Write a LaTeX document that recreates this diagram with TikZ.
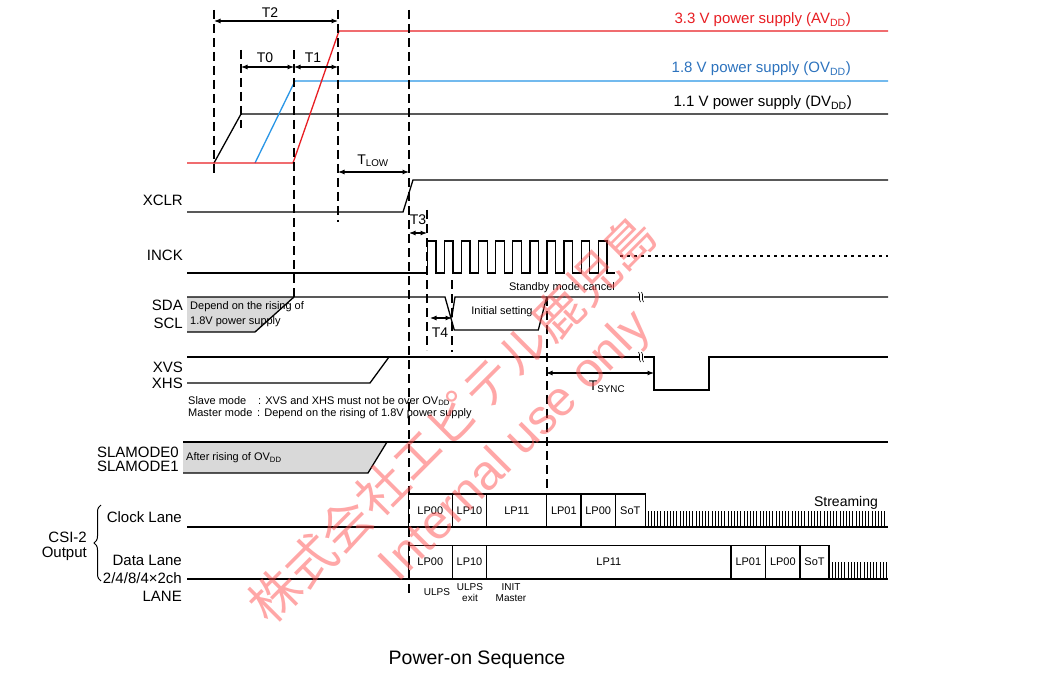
\documentclass[tikz,border=0pt]{standalone}
\usepackage{fontspec}
\setmainfont{Liberation Sans}
\newfontfamily\cjkfont{Noto Sans CJK JP}
\usetikzlibrary{arrows.meta,decorations.pathreplacing}
\definecolor{vred}{RGB}{232,30,35}
\definecolor{vblue}{RGB}{40,150,230}
\definecolor{tblue}{RGB}{45,115,190}
\definecolor{greyfill}{RGB}{217,217,217}
\definecolor{wm}{RGB}{255,80,80}
\tikzset{
  sig/.style={line width=1.3pt},
  guide/.style={line width=1.2pt, dash pattern=on 9pt off 5pt},
  dimarrow/.style={line width=1.1pt, {Latex[length=6.5pt,width=5pt]}-{Latex[length=6.5pt,width=5pt]}},
  siglab/.style={anchor=east, font=\fontsize{15}{16}\selectfont, inner sep=0pt},
  tlab/.style={font=\fontsize{14}{15}\selectfont, inner sep=0pt},
  note/.style={font=\fontsize{11}{12}\selectfont, inner sep=0pt, anchor=west},
  boxlab/.style={font=\fontsize{11}{12}\selectfont, inner sep=0pt},
  sublab/.style={font=\fontsize{10}{11}\selectfont, inner sep=0pt, align=center},
  supply/.style={anchor=east, font=\fontsize{15}{16}\selectfont, inner sep=0pt},
  tick/.style={line width=0.8pt},
  wmark/.style={rotate=45, text=wm, opacity=0.5, inner sep=0pt},
}
\begin{document}
\begin{tikzpicture}[x=1pt,y=-1pt]
\useasboundingbox (0,0) rectangle (1037,674);
\fill[white] (0,0) rectangle (1037,674);

% ---------- power supplies ----------
\draw[sig] (214,163) -- (241,114) -- (888,114);
\draw[sig, vblue] (255,163) -- (295,81) -- (888,81);
\draw[sig, vred] (187,163) -- (293,163) -- (339,31) -- (888,31);
\node[supply, text=vred] (avdd) at (851,20) {3.3 V power supply (AV\textsubscript{DD})};
\node[supply, text=tblue] (ovdd) at (851,69) {1.8 V power supply (OV\textsubscript{DD})};
\node[supply] (dvdd) at (852,103) {1.1 V power supply (DV\textsubscript{DD})};

% ---------- dashed guides ----------
\draw[guide] (214,10) -- (214,173);
\draw[guide] (241,50) -- (241,128);
\draw[guide] (294,50) -- (294,297);
\draw[guide] (338,10) -- (338,222);
\draw[guide] (409,10) -- (409,593);
\draw[guide] (427,210) -- (427,350);
\draw[guide] (452,280) -- (452,352);
\draw[guide] (547,297) -- (547,494);

% ---------- timing arrows ----------
\coordinate (t2a) at (214,21); \coordinate (t2b) at (338,21);
\draw[dimarrow] (t2a) -- (t2b);
\node[tlab] (T2) at (270,13) {T2};
\coordinate (t0a) at (241,67); \coordinate (t0b) at (294,67); \coordinate (t1b) at (338,67);
\draw[dimarrow] (t0a) -- (t0b);
\draw[dimarrow] (t0b) -- (t1b);
\node[tlab] (T0) at (265,58) {T0};
\node[tlab] (T1) at (313,58) {T1};
\coordinate (tla) at (338,172); \coordinate (tlb) at (409,172);
\draw[dimarrow] (tla) -- (tlb);
\node[tlab] (TLOW) at (373,161) {T\textsubscript{LOW}};
\coordinate (t3a) at (409,233); \coordinate (t3b) at (427,233);
\draw[dimarrow] (t3a) -- (t3b);
\node[tlab] (T3) at (418,220) {T3};
\coordinate (t4a) at (430,318); \coordinate (t4b) at (452,318);
\draw[dimarrow] (t4a) -- (t4b);
\node[tlab] (T4) at (440,333) {T4};
\coordinate (tsa) at (546,373); \coordinate (tsb) at (654,373);
\draw[dimarrow] (tsa) -- (tsb);
\node[tlab] (TSYNC) at (607,387) {T\textsubscript{SYNC}};

% ---------- XCLR ----------
\node[siglab] (xclr) at (183,200) {XCLR};
\draw[sig] (187,212) -- (403,212) -- (413,180) -- (888,180);

% ---------- INCK ----------
\node[siglab] (inck) at (183,255) {INCK};
\draw[sig] (187,273) -- (427.3,273)
  \foreach \i in {0,...,10} { -- ++(0,-32) -- ++(8.6,0) -- ++(0,32) -- ++(8.5,0) };
\draw[line width=1.1pt, dash pattern=on 3pt off 4pt] (620,256) -- (888,256);

% ---------- SDA / SCL ----------
\node[siglab] (sda) at (183,305) {SDA};
\node[siglab] (scl) at (183,323) {SCL};
\fill[greyfill] (187,297) -- (294,297) -- (255,332) -- (187,332) -- cycle;
\draw[sig] (294,297) -- (255,332) -- (187,332);
\draw[sig] (187,297) -- (445,297) -- (454.3,330) -- (538.3,330) -- (546.7,297);
\draw[sig] (451.7,317.7) -- (455,297) -- (888,297);
\node[note] (dep1) at (190,307) {Depend on the rising of};
\node[note] (dep2) at (190,322) {1.8V power supply};
\node[boxlab] (init) at (502,312) {Initial setting};
\node[boxlab] (stby) at (562,288) {Standby mode cancel};

% ---------- XVS / XHS ----------
\node[siglab] (xvs) at (183,367) {XVS};
\node[siglab] (xhs) at (183,383) {XHS};
\draw[sig] (187,357) -- (654,357) -- (654,390) -- (709,390) -- (709,357) -- (888,357);
\draw[sig] (187,383) -- (370,383) -- (389,357);
\node[note] (slave) at (188,401) {\makebox[70pt][l]{Slave mode}: XVS and XHS must not be over OV\textsubscript{DD}};
\node[note] (master) at (188,414) {\makebox[69pt][l]{Master mode}: Depend on the rising of 1.8V power supply};

% break marks
\foreach \yy in {297,357} {
  \fill[white] (639,\yy-3) rectangle (644,\yy+3);
  \draw[line width=0.6pt] (638.5,\yy-5) .. controls (641,\yy-2) and (638,\yy+2) .. (640.5,\yy+5);
  \draw[line width=0.6pt] (641.5,\yy-5) .. controls (644,\yy-2) and (641,\yy+2) .. (643.5,\yy+5);
}

% ---------- SLAMODE ----------
\node[siglab] (sl0) at (179,452) {SLAMODE0};
\node[siglab] (sl1) at (179,466) {SLAMODE1};
\fill[greyfill] (183,442) -- (387,442) -- (368,473) -- (183,473) -- cycle;
\draw[sig] (183,442) -- (888,442);
\draw[sig] (387,442) -- (368,473) -- (183,473);
\node[note] (after) at (186,458) {After rising of OV\textsubscript{DD}};

% ---------- CSI-2 ----------
\node[siglab] (csi) at (87,537) {CSI-2};
\node[siglab] (outp) at (87,554) {Output};
\draw[line width=1pt, decorate, decoration={brace, amplitude=7pt}] (101,581) -- (101,505);
\node[siglab] (clk) at (182,517) {Clock Lane};
\node[siglab] (dl) at (182,560) {Data Lane};
\node[siglab] (dl2) at (182,578) {2/4/8/4×2ch};
\node[siglab] (lane) at (182,596) {LANE};

% clock lane
\draw[sig] (187,527) -- (888,527);
\draw[sig] (408.3,527) -- (408.3,494) -- (645.3,494) -- (645.3,527);
\foreach \xx in {452.3,486.7,546.7,581,615.3} \draw[sig] (\xx,494) -- (\xx,527);
\foreach \xa/\xb/\t [count=\k] in {408.3/452.3/LP00, 452.3/486.7/LP10, 486.7/546.7/LP11, 546.7/581/LP01, 581/615.3/LP00, 615.3/645.3/SoT}
  \node[boxlab] (ck\k) at ({(\xa+\xb)/2},510.5) {\t};
\foreach \xx in {648,651.2,...,887} \draw[tick] (\xx,511) -- (\xx,527);
\node[tlab] (stream) at (846,503) {Streaming};

% data lane
\draw[sig] (187,579) -- (888,579);
\draw[sig] (408.3,579) -- (408.3,545.7) -- (829,545.7) -- (829,579);
\foreach \xx in {452.3,486.7,731,765.7,800} \draw[sig] (\xx,545.7) -- (\xx,579);
\foreach \xa/\xb/\t [count=\k] in {408.3/452.3/LP00, 452.3/486.7/LP10, 486.7/731/LP11, 731/765.7/LP01, 765.7/800/LP00, 800/829/SoT}
  \node[boxlab] (dk\k) at ({(\xa+\xb)/2},562) {\t};
\foreach \xx in {832,835.2,...,887} \draw[tick] (\xx,562) -- (\xx,579);

\node[sublab] (ulps) at (437,592) {ULPS};
\node[sublab] (ulpsx) at (470,593) {ULPS\\exit};
\node[sublab] (initm) at (511,593) {INIT\\Master};

% ---------- caption ----------
\node[font=\fontsize{19.5}{21}\selectfont, inner sep=0pt] (cap) at (477,660) {Power-on Sequence};

% ---------- watermark ----------
\node[wmark, font=\cjkfont\fontsize{50}{50}\selectfont] (wmjp) at (452,419) {株式会社エピテル鹿児島};
\node[wmark, font=\fontsize{49}{49}\selectfont] (wmen) at (517,447) {Internal use only};
\end{tikzpicture}
\end{document}
